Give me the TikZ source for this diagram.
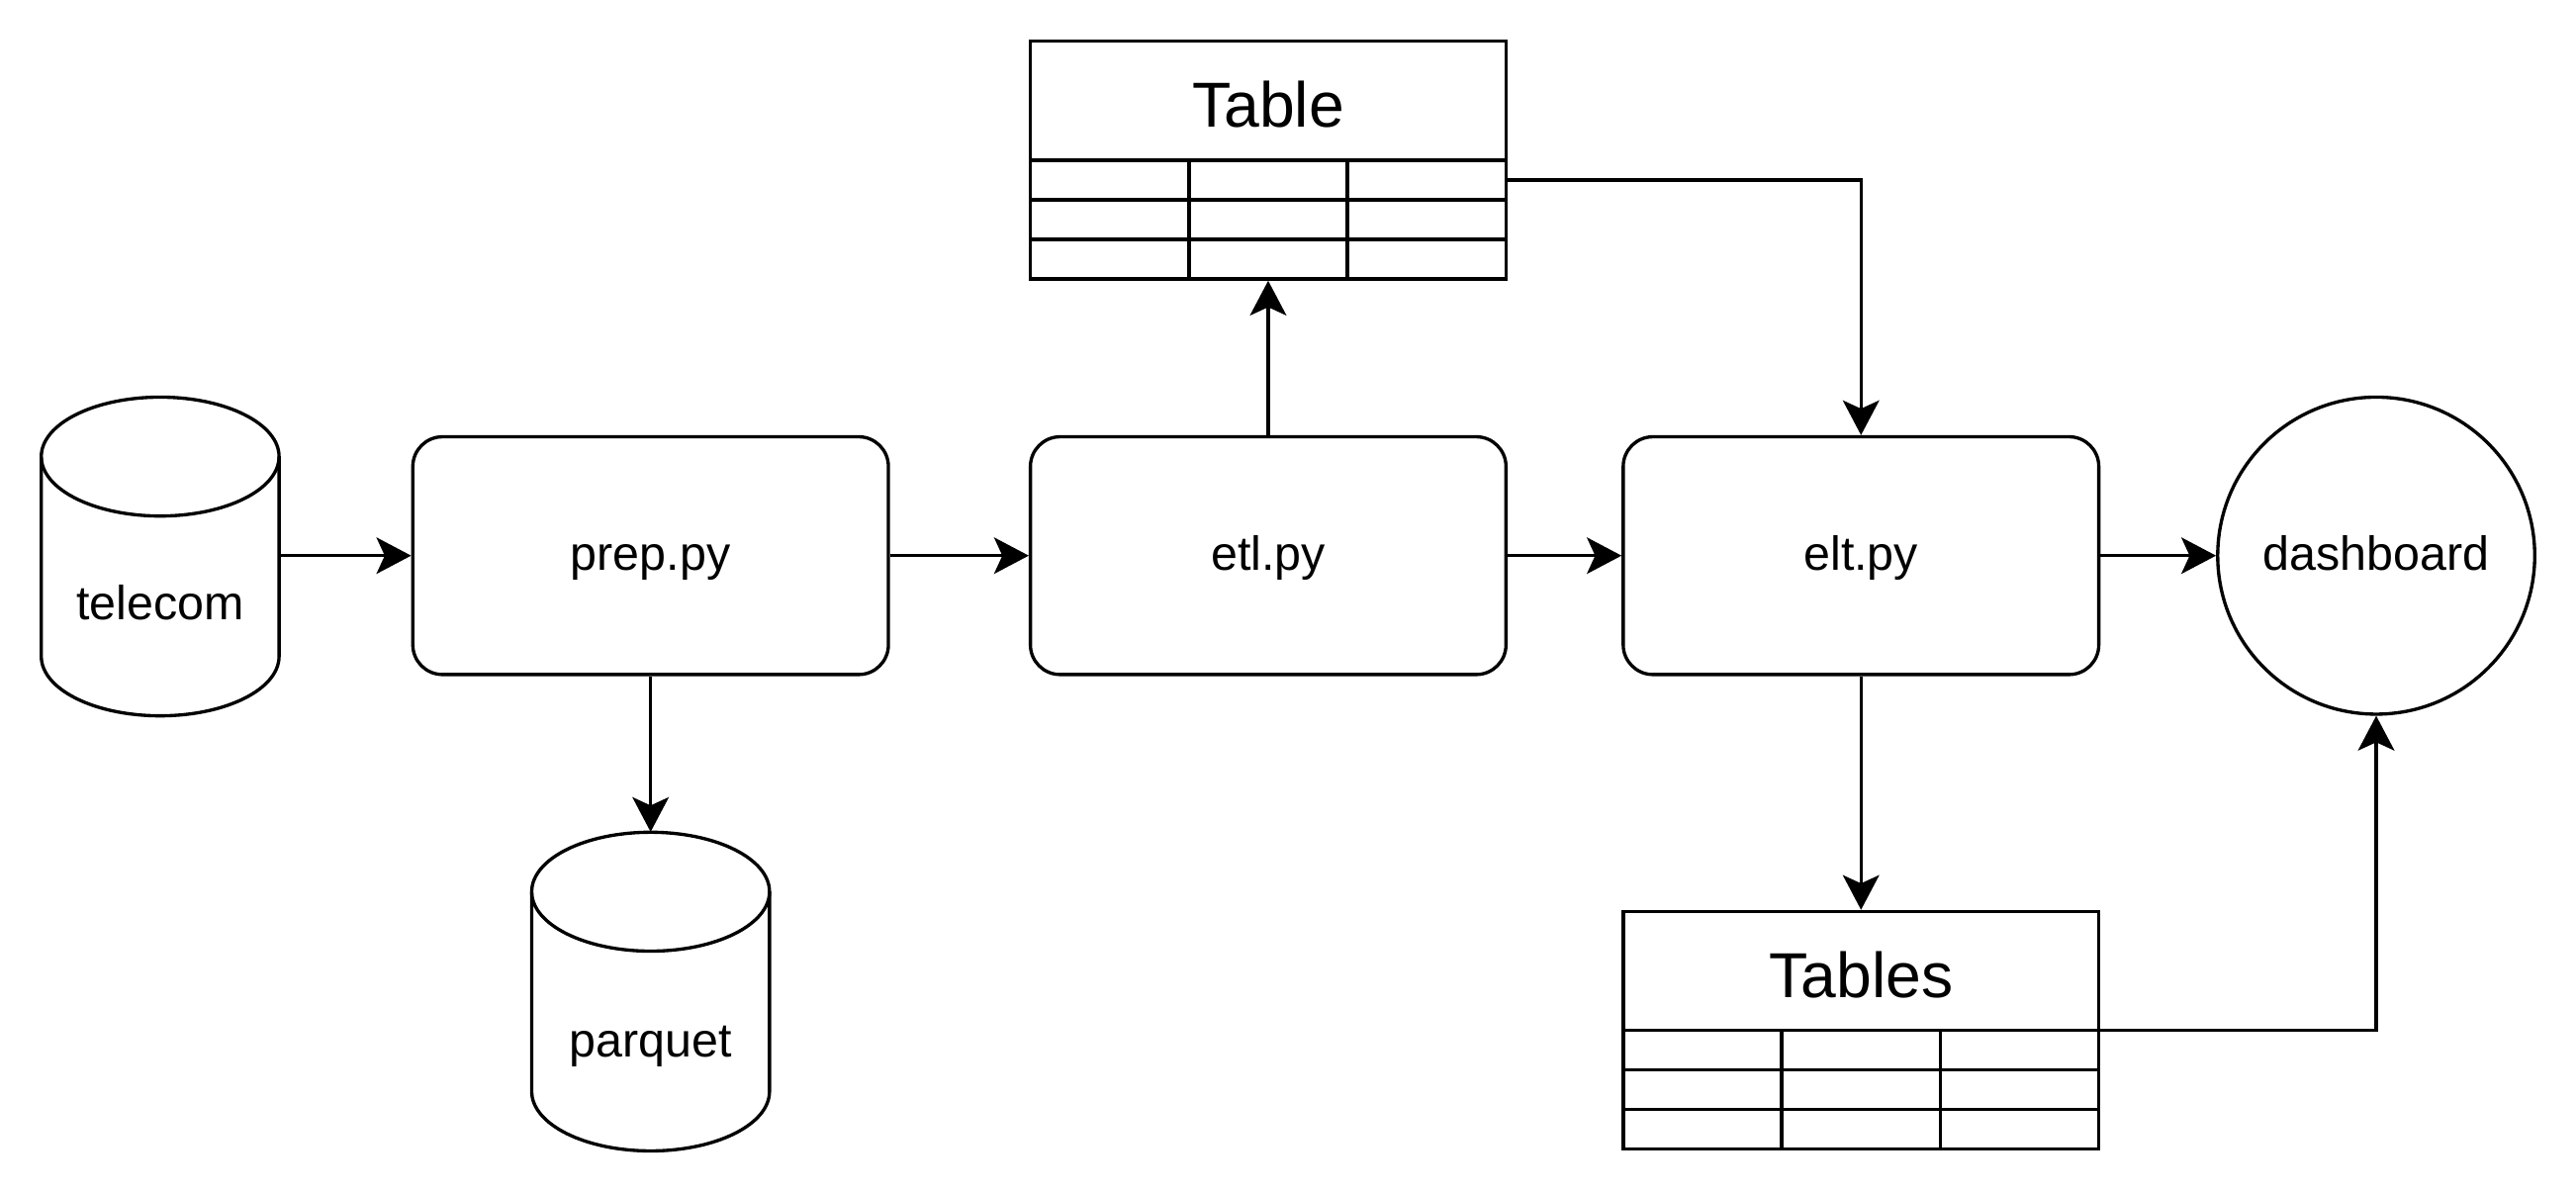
\documentclass[tikz,border=0pt]{standalone}
\usepackage{fontspec}
\setmainfont{Liberation Sans}
\usetikzlibrary{arrows.meta}
\begin{document}
\begin{tikzpicture}[x=1pt,y=1pt,
  shapeline/.style={line width=2pt, line join=round},
  proc/.style={draw, line width=2pt, rounded corners=18pt, minimum width=288pt, minimum height=144pt, inner sep=0pt, font=\fontsize{29}{35}\selectfont, text height=21pt, text depth=3pt},
  roundnode/.style={draw, circle, line width=2pt, minimum size=192pt, inner sep=0pt, font=\fontsize{29}{35}\selectfont, text height=21pt, text depth=3pt},
  extent/.style={draw=none, inner sep=0pt, minimum width=144pt, minimum height=193pt},
  tablebox/.style={draw, line width=2pt, inner sep=0pt, minimum width=288pt, minimum height=144pt},
  lbl/.style={inner sep=0pt, font=\fontsize{29}{35}\selectfont},
  ttl/.style={inner sep=0pt, font=\fontsize{38.5}{46}\selectfont},
  tline/.style={line width=2pt},
  conn/.style={draw, line width=2pt, -{Stealth[length=21pt,width=22pt,inset=5pt]}}
]
\fill[white] (0,0) rectangle (1560,-721.3);
\useasboundingbox (0,0) rectangle (1560,-721.3);

% telecom cylinder
\node[extent] (telecom) at (97,-337) {};
\draw[shapeline] (97,-276.5) ellipse [x radius=72, y radius=36];
\draw[shapeline] (25,-276.5) -- (25,-397.5) arc[start angle=180, end angle=360, x radius=72, y radius=36] -- (169,-276.5);
\node[lbl, anchor=base] (telecomtxt) at (97,-375.4) {telecom};

% parquet cylinder
\node[extent] (parquet) at (394,-600.5) {};
\draw[shapeline] (394,-540) ellipse [x radius=72, y radius=36];
\draw[shapeline] (322,-540) -- (322,-661) arc[start angle=180, end angle=360, x radius=72, y radius=36] -- (466,-540);
\node[lbl, anchor=base] (parquettxt) at (394,-640) {parquet};

% process boxes
\node[proc] (prep) at (394,-336.5) {prep.py};
\node[proc] (etl) at (768,-336.5) {etl.py};
\node[proc] (elt) at (1127,-336.5) {elt.py};
\node[roundnode] (dash) at (1439,-336.5) {dashboard};

% Table (top)
\node[tablebox] (tbl) at (768,-97) {};
\draw[tline] (624,-97) -- (912,-97);
\draw[tline] (624,-121) -- (912,-121);
\draw[tline] (624,-145) -- (912,-145);
\draw[tline] (720,-97) -- (720,-169);
\draw[tline] (816,-97) -- (816,-169);
\node[ttl, anchor=base] (tbltitle) at (768,-76.9) {Table};

% Tables (bottom)
\node[tablebox] (tbls) at (1127,-624) {};
\draw[tline] (983,-624) -- (1271,-624);
\draw[tline] (983,-648) -- (1271,-648);
\draw[tline] (983,-672) -- (1271,-672);
\draw[tline] (1079,-624) -- (1079,-696);
\draw[tline] (1175,-624) -- (1175,-696);
\node[ttl, anchor=base] (tblstitle) at (1127,-604) {Tables};

% connectors
\draw[conn] (telecom.east |- prep.west) -- (prep.west);
\draw[conn] (prep.east) -- (etl.west);
\draw[conn] (etl.east) -- (elt.west);
\draw[conn] (elt.east) -- (dash.west);
\draw[conn] (prep.south) -- (parquet.north);
\draw[conn] (etl.north) -- (tbl.south);
\coordinate (tblout) at (912,-109);
\draw[conn] (tblout) -| (elt.north);
\draw[conn] (elt.south) -- (tbls.north);
\coordinate (tblsout) at (1271,-624);
\draw[conn] (tblsout) -| (dash.south);
\end{tikzpicture}
\end{document}
